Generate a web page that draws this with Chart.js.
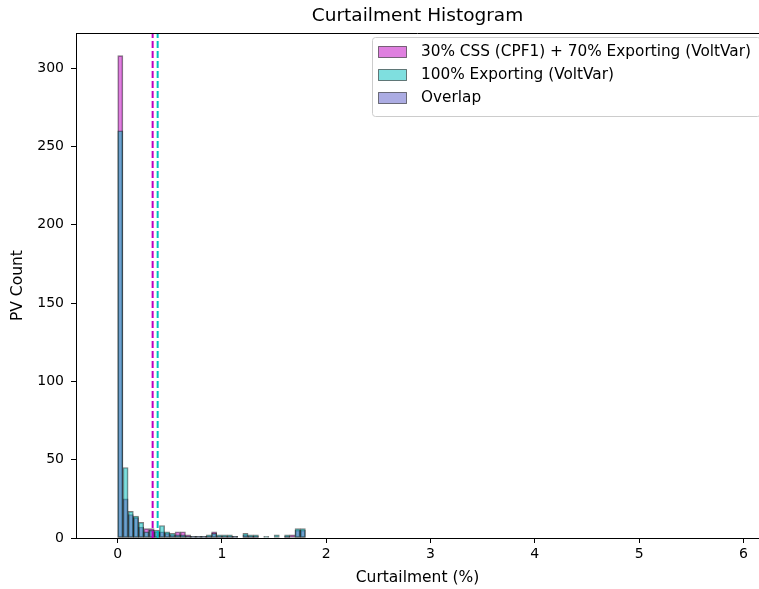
<!DOCTYPE html>
<html lang="en">
<head>
  <meta charset="UTF-8">
  <title>Curtailment Histogram</title>
  <script src="https://cdn.jsdelivr.net/npm/chart.js@4"></script>
  <style>
    body { margin: 0; background: #fff; }
    #wrap { width: 759px; height: 589px; }
  </style>
</head>
<body>
<div id="wrap"><canvas id="histChart" width="759" height="589"></canvas></div>

<script>
  // bin centres of the histogram (curtailment %, bins 0.05 wide)
  const binCenters = [0.025, 0.075, 0.125, 0.175, 0.225, 0.275, 0.325, 0.375, 0.425, 0.475,
                      0.525, 0.575, 0.625, 0.675, 0.725, 0.775, 0.825, 0.875, 0.925, 0.975,
                      1.025, 1.075, 1.125, 1.175, 1.225, 1.275, 1.325, 1.375, 1.425, 1.475,
                      1.525, 1.575, 1.625, 1.675, 1.725, 1.775];

  // PV counts per bin
  const cssCounts = [308, 25, 15, 13, 7, 6, 6, 4, 4, 3,
                     2, 4, 4, 2, 1, 1, 1, 1, 4, 1,
                     1, 1, 1, 0, 2, 1, 1, 0, 0, 0,
                     0, 0, 1, 2, 5, 5];
  const exportCounts = [260, 45, 17, 14, 10, 4, 5, 5, 8, 4,
                        3, 2, 2, 1, 1, 1, 1, 2, 3, 2,
                        2, 2, 1, 0, 3, 2, 2, 0, 1, 0,
                        2, 0, 2, 0, 6, 6];

  // mean curtailment (dashed lines)
  const cssMean = 0.335;
  const exportMean = 0.383;

  const legendLabels = ['30% CSS (CPF1) + 70% Exporting (VoltVar)', '100% Exporting (VoltVar)', 'Overlap'];
  const xTicks = [0, 1, 2, 3, 4, 5, 6];
  const yTicks = [0, 50, 100, 150, 200, 250, 300];
  const xMin = -0.40, xMax = 6.15;
  const yMax = 322.3;

  const FONT = 'DejaVu Sans';
  const magenta = 'rgba(191, 0, 191, 0.5)';
  const cyan = 'rgba(0, 191, 191, 0.5)';
  const overlap = 'rgba(90, 90, 200, 0.5)';
  const edge = 'rgba(0, 0, 0, 0.5)';

  function toPoints(values) {
    return binCenters.map((x, i) => ({ x: x, y: values[i] === 0 ? null : values[i] }));
  }

  // top spine + legend box inside the plot
  const frameLegend = {
    id: 'frameLegend',
    afterDraw(chart) {
      const ctx = chart.ctx;
      const a = chart.chartArea;
      ctx.save();
      ctx.strokeStyle = '#000';
      ctx.lineWidth = 1;
      ctx.beginPath();
      ctx.moveTo(a.left, Math.round(a.top) + 0.5);
      ctx.lineTo(a.right, Math.round(a.top) + 0.5);
      ctx.stroke();

      // legend frame
      const lx = 372.5, ly = 37.5, lw = 388, lh = 79;
      ctx.fillStyle = 'rgba(255,255,255,0.8)';
      ctx.strokeStyle = '#cccccc';
      ctx.beginPath();
      ctx.roundRect(lx, ly, lw, lh, 3);
      ctx.fill();
      ctx.stroke();

      const patchColors = [magenta, cyan, overlap];
      const rows = [52, 75, 98];
      ctx.font = '15.3px "' + FONT + '"';
      ctx.textBaseline = 'middle';
      legendLabels.forEach((label, i) => {
        ctx.fillStyle = patchColors[i];
        ctx.fillRect(378.5, rows[i] - 5.5, 28, 11);
        ctx.strokeStyle = edge;
        ctx.strokeRect(378.5, rows[i] - 5.5, 28, 11);
        ctx.fillStyle = '#000';
        ctx.fillText(label, 421, rows[i]);
      });
      ctx.restore();
    }
  };

  const ctx = document.getElementById('histChart').getContext('2d');
  const chart = new Chart(ctx, {
    type: 'bar',
    data: {
      datasets: [
        {
          label: legendLabels[0],
          data: toPoints(cssCounts),
          backgroundColor: magenta,
          borderColor: edge,
          borderWidth: 1,
          borderSkipped: false,
          barPercentage: 1,
          categoryPercentage: 1,
          grouped: false,
          order: 2
        },
        {
          label: legendLabels[1],
          data: toPoints(exportCounts),
          backgroundColor: cyan,
          borderColor: edge,
          borderWidth: 1,
          borderSkipped: false,
          barPercentage: 1,
          categoryPercentage: 1,
          grouped: false,
          order: 1
        },
        {
          type: 'line',
          data: [{ x: cssMean, y: 0 }, { x: cssMean, y: yMax }],
          borderColor: '#bf00bf',
          borderWidth: 2,
          borderDash: [7, 3],
          pointRadius: 0,
          order: 0
        },
        {
          type: 'line',
          data: [{ x: exportMean, y: 0 }, { x: exportMean, y: yMax }],
          borderColor: '#00bfbf',
          borderWidth: 2,
          borderDash: [7, 3],
          pointRadius: 0,
          order: 0
        }
      ]
    },
    options: {
      responsive: false,
      animation: false,
      layout: { padding: 0 },
      plugins: {
        legend: { display: false },
        tooltip: { enabled: false },
        title: {
          display: true,
          fullSize: false,
          text: 'Curtailment Histogram',
          color: '#000',
          font: { family: FONT, size: 18.5, weight: 'normal' },
          padding: { top: 5, bottom: 6 }
        }
      },
      scales: {
        x: {
          type: 'linear',
          min: xMin,
          max: xMax,
          offset: false,
          afterFit: s => { s.height = 51; },
          afterBuildTicks: s => { s.ticks = xTicks.map(v => ({ value: v })); },
          grid: { drawOnChartArea: false, offset: false, tickLength: 5, color: '#000' },
          border: { color: '#000' },
          ticks: { color: '#000', font: { family: FONT, size: 14 }, padding: 3, maxRotation: 0 },
          title: {
            display: true,
            text: 'Curtailment (%)',
            color: '#000',
            font: { family: FONT, size: 15.5 },
            padding: { top: 0, bottom: 2 }
          }
        },
        y: {
          min: 0,
          max: yMax,
          afterFit: s => { s.width = 76; },
          afterBuildTicks: s => { s.ticks = yTicks.map(v => ({ value: v })); },
          grid: { drawOnChartArea: false, tickLength: 5, color: '#000' },
          border: { color: '#000' },
          ticks: { color: '#000', font: { family: FONT, size: 14 }, padding: 7 },
          title: {
            display: true,
            text: 'PV Count',
            color: '#000',
            font: { family: FONT, size: 15.5 },
            padding: { top: 9, bottom: 0 }
          }
        }
      }
    },
    plugins: [frameLegend]
  });
</script>
</body>
</html>
